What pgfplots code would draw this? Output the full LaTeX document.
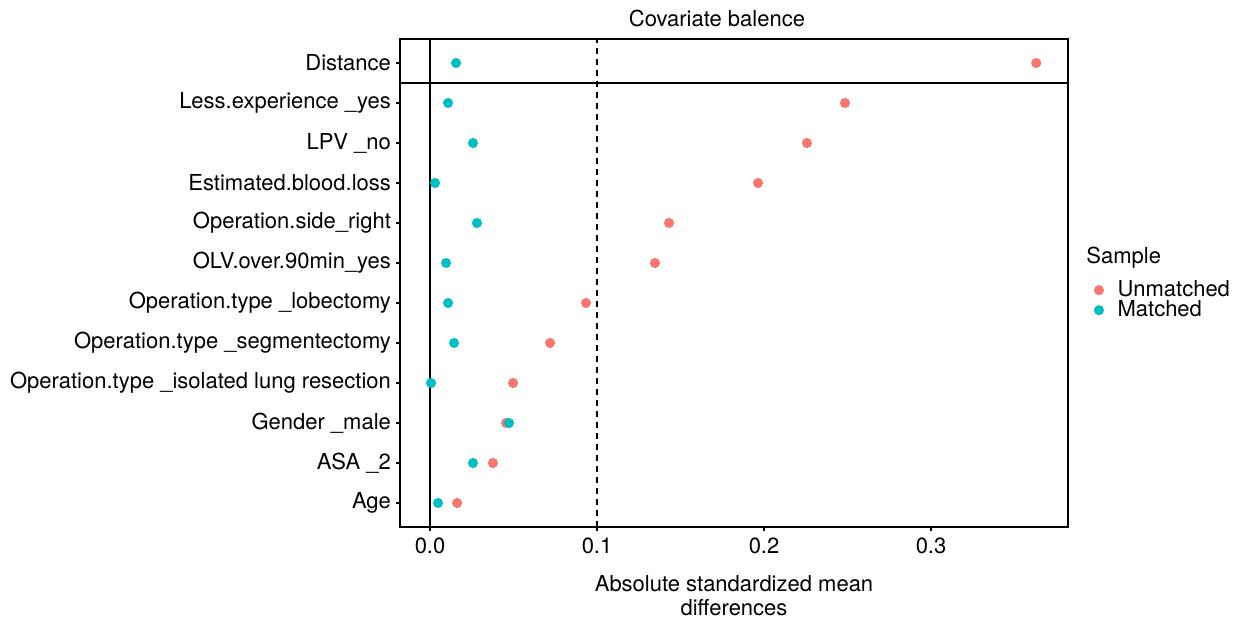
\documentclass[border=0pt]{standalone}
\usepackage{pgfplots}
\pgfplotsset{compat=1.18}
\usepackage{fontspec}
\setmainfont{TeX Gyre Heros}

\definecolor{unmatched}{HTML}{F8766D}
\definecolor{matched}{HTML}{00BFC4}

\begin{document}
\begin{tikzpicture}
\begin{axis}[
    name=ax,
    scale only axis,
    clip=false,
    width=334pt, height=244pt,
    xmin=-0.018, xmax=0.382,
    ymin=0.4, ymax=12.6,
    xtick={0,0.1,0.2,0.3},
    xticklabels={0.0,0.1,0.2,0.3},
    ytick={1,2,3,4,5,6,7,8,9,10,11,12},
    yticklabels={Age, ASA \_2, Gender \_male, Operation.type \_isolated lung resection,
        Operation.type \_segmentectomy, Operation.type \_lobectomy, OLV.over.90min\_yes,
        Operation.side\_right, Estimated.blood.loss, LPV \_no, Less.experience \_yes, Distance},
    tick align=outside, tick pos=left,
    major tick length=2pt,
    every tick/.style={black, line width=0.6pt},
    axis line style={line width=0.6pt},
    tick label style={font=\fontsize{11}{13}\selectfont},
    yticklabel style={xshift=1pt},
    title={Covariate balence},
    title style={font=\fontsize{11}{13}\selectfont, yshift=-3.5pt, xshift=-8.5pt},
    xlabel={Absolute standardized mean\\differences},
    xlabel style={align=center, font=\fontsize{11}{12}\selectfont, yshift=-4pt},
    legend cell align=left,
    legend style={at={(rel axis cs:1,0.522)}, anchor=north west, xshift=10pt,
        draw=none, fill=none,
        font=\fontsize{11}{11}\selectfont, row sep=-3.5pt,
        /tikz/every odd column/.append style={column sep=5pt}},
    legend image code/.code={\draw[#1] plot coordinates {(0cm,0cm)};},
]
\addplot[only marks, mark=*, mark size=2.3pt, color=unmatched] coordinates {
    (0.0162,1) (0.0377,2) (0.0455,3) (0.0497,4) (0.0719,5) (0.0934,6)
    (0.1347,7) (0.1431,8) (0.1964,9) (0.2257,10) (0.2485,11) (0.3630,12)
};
\addlegendentry{Unmatched}
\addplot[only marks, mark=*, mark size=2.3pt, color=matched] coordinates {
    (0.0048,1) (0.0257,2) (0.0473,3) (0.0006,4) (0.0144,5) (0.0108,6)
    (0.0096,7) (0.0281,8) (0.0030,9) (0.0257,10) (0.0108,11) (0.0156,12)
};
\addlegendentry{Matched}

\draw[line width=0.6pt] (axis cs:0,0.4) -- (axis cs:0,12.6);
\draw[line width=0.6pt, dashed, dash pattern=on 3pt off 2.5pt] (axis cs:0.1,0.4) -- (axis cs:0.1,12.6);
\draw[line width=0.6pt] (axis cs:-0.018,11.5) -- (axis cs:0.382,11.5);
\node[anchor=base west, inner sep=0pt, font=\fontsize{11}{11}\selectfont]
    at (rel axis cs:1.027,0.539) {Sample};
\end{axis}
\pgfresetboundingbox
\path (ax.south west) ++(-200pt,-46pt) rectangle ++(619.5pt,309.5pt);
\end{tikzpicture}
\end{document}
